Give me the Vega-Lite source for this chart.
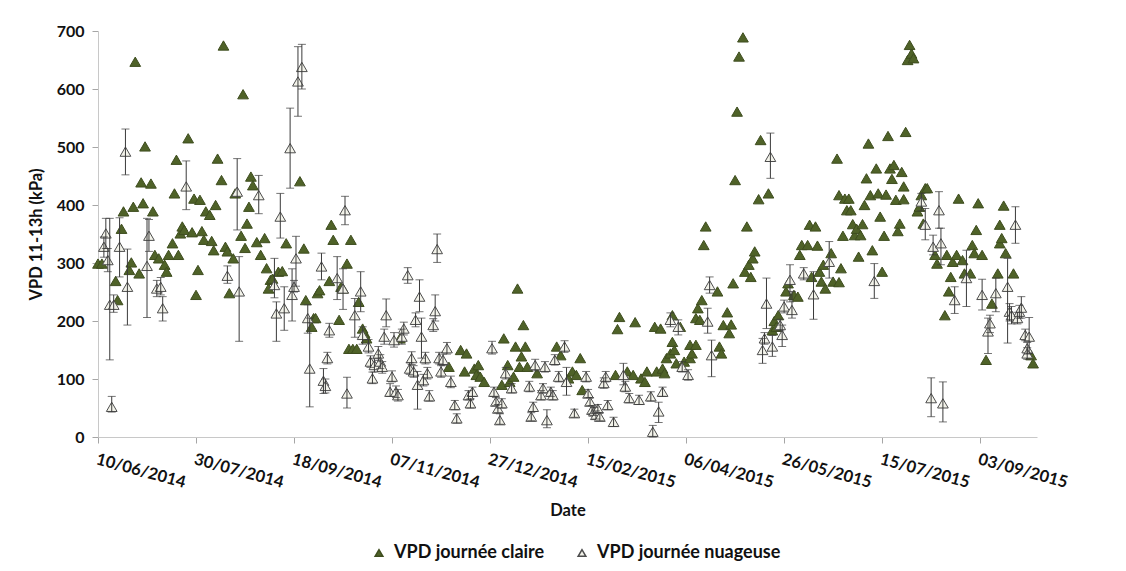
{
"$schema":"https://vega.github.io/schema/vega-lite/v6.json",
"width":939,"height":406,
"autosize":{"type":"none"},
"padding":{"left":98,"top":31,"right":89,"bottom":134},
"background":"white",
"config":{"view":{"stroke":null},"font":"Lato"},
"data":{"format":{"parse":{"d":"date:'%Y-%m-%d'"}},"values":[
{"d":"2014-06-10","v":299,"t":"c"},{"d":"2014-06-12","v":299,"t":"c"},{"d":"2014-06-19","v":269,"t":"c"},{"d":"2014-06-20","v":236,"t":"c"},{"d":"2014-06-22","v":359,"t":"c"},{"d":"2014-06-23","v":389,"t":"c"},{"d":"2014-06-26","v":288,"t":"c"},{"d":"2014-06-27","v":301,"t":"c"},{"d":"2014-06-28","v":397,"t":"c"},{"d":"2014-06-29","v":647,"t":"c"},
{"d":"2014-07-01","v":282,"t":"c"},{"d":"2014-07-02","v":439,"t":"c"},{"d":"2014-07-03","v":403,"t":"c"},{"d":"2014-07-04","v":501,"t":"c"},{"d":"2014-07-07","v":437,"t":"c"},{"d":"2014-07-08","v":389,"t":"c"},{"d":"2014-07-09","v":314,"t":"c"},{"d":"2014-07-11","v":308,"t":"c"},{"d":"2014-07-14","v":297,"t":"c"},{"d":"2014-07-15","v":285,"t":"c"},{"d":"2014-07-16","v":314,"t":"c"},{"d":"2014-07-18","v":334,"t":"c"},{"d":"2014-07-19","v":420,"t":"c"},{"d":"2014-07-20","v":478,"t":"c"},{"d":"2014-07-21","v":314,"t":"c"},{"d":"2014-07-22","v":351,"t":"c"},{"d":"2014-07-23","v":363,"t":"c"},{"d":"2014-07-24","v":357,"t":"c"},{"d":"2014-07-26","v":515,"t":"c"},{"d":"2014-07-28","v":353,"t":"c"},{"d":"2014-07-29","v":411,"t":"c"},{"d":"2014-07-30","v":245,"t":"c"},{"d":"2014-07-31","v":288,"t":"c"},
{"d":"2014-08-01","v":409,"t":"c"},{"d":"2014-08-02","v":355,"t":"c"},{"d":"2014-08-03","v":340,"t":"c"},{"d":"2014-08-04","v":389,"t":"c"},{"d":"2014-08-06","v":383,"t":"c"},{"d":"2014-08-07","v":338,"t":"c"},{"d":"2014-08-08","v":322,"t":"c"},{"d":"2014-08-09","v":400,"t":"c"},{"d":"2014-08-10","v":480,"t":"c"},{"d":"2014-08-12","v":443,"t":"c"},{"d":"2014-08-13","v":675,"t":"c"},{"d":"2014-08-14","v":328,"t":"c"},{"d":"2014-08-15","v":320,"t":"c"},{"d":"2014-08-16","v":248,"t":"c"},{"d":"2014-08-18","v":308,"t":"c"},{"d":"2014-08-19","v":420,"t":"c"},{"d":"2014-08-22","v":347,"t":"c"},{"d":"2014-08-23","v":591,"t":"c"},{"d":"2014-08-24","v":326,"t":"c"},{"d":"2014-08-25","v":368,"t":"c"},{"d":"2014-08-26","v":397,"t":"c"},{"d":"2014-08-27","v":449,"t":"c"},{"d":"2014-08-28","v":434,"t":"c"},{"d":"2014-08-30","v":336,"t":"c"},
{"d":"2014-09-01","v":314,"t":"c"},{"d":"2014-09-03","v":343,"t":"c"},{"d":"2014-09-04","v":291,"t":"c"},{"d":"2014-09-05","v":256,"t":"c"},{"d":"2014-09-06","v":271,"t":"c"},{"d":"2014-09-07","v":273,"t":"c"},{"d":"2014-09-10","v":285,"t":"c"},{"d":"2014-09-12","v":286,"t":"c"},{"d":"2014-09-14","v":334,"t":"c"},{"d":"2014-09-21","v":441,"t":"c"},{"d":"2014-09-23","v":325,"t":"c"},{"d":"2014-09-24","v":236,"t":"c"},{"d":"2014-09-27","v":190,"t":"c"},{"d":"2014-09-28","v":205,"t":"c"},{"d":"2014-09-29","v":205,"t":"c"},{"d":"2014-09-30","v":248,"t":"c"},
{"d":"2014-10-01","v":253,"t":"c"},{"d":"2014-10-06","v":269,"t":"c"},{"d":"2014-10-07","v":366,"t":"c"},{"d":"2014-10-08","v":340,"t":"c"},{"d":"2014-10-11","v":202,"t":"c"},{"d":"2014-10-12","v":259,"t":"c"},{"d":"2014-10-13","v":256,"t":"c"},{"d":"2014-10-15","v":299,"t":"c"},{"d":"2014-10-16","v":152,"t":"c"},{"d":"2014-10-17","v":340,"t":"c"},{"d":"2014-10-18","v":152,"t":"c"},{"d":"2014-10-20","v":152,"t":"c"},{"d":"2014-10-21","v":233,"t":"c"},{"d":"2014-10-23","v":187,"t":"c"},{"d":"2014-10-24","v":179,"t":"c"},{"d":"2014-10-25","v":170,"t":"c"},
{"d":"2014-11-11","v":170,"t":"c"},{"d":"2014-12-06","v":121,"t":"c"},{"d":"2014-12-12","v":150,"t":"c"},{"d":"2014-12-14","v":113,"t":"c"},{"d":"2014-12-15","v":144,"t":"c"},{"d":"2014-12-19","v":118,"t":"c"},{"d":"2014-12-20","v":107,"t":"c"},{"d":"2014-12-21","v":124,"t":"c"},{"d":"2014-12-22","v":104,"t":"c"},{"d":"2014-12-24","v":95,"t":"c"},
{"d":"2015-01-02","v":90,"t":"c"},{"d":"2015-01-03","v":170,"t":"c"},{"d":"2015-01-05","v":124,"t":"c"},{"d":"2015-01-06","v":95,"t":"c"},{"d":"2015-01-08","v":104,"t":"c"},{"d":"2015-01-09","v":156,"t":"c"},{"d":"2015-01-10","v":256,"t":"c"},{"d":"2015-01-11","v":121,"t":"c"},{"d":"2015-01-12","v":139,"t":"c"},{"d":"2015-01-13","v":193,"t":"c"},{"d":"2015-01-14","v":156,"t":"c"},{"d":"2015-01-15","v":121,"t":"c"},{"d":"2015-01-20","v":110,"t":"c"},{"d":"2015-01-30","v":156,"t":"c"},
{"d":"2015-02-01","v":141,"t":"c"},{"d":"2015-02-05","v":101,"t":"c"},{"d":"2015-02-07","v":113,"t":"c"},{"d":"2015-02-09","v":107,"t":"c"},{"d":"2015-02-11","v":136,"t":"c"},{"d":"2015-02-12","v":81,"t":"c"},
{"d":"2015-03-01","v":107,"t":"c"},{"d":"2015-03-02","v":186,"t":"c"},{"d":"2015-03-03","v":207,"t":"c"},{"d":"2015-03-07","v":113,"t":"c"},{"d":"2015-03-10","v":107,"t":"c"},{"d":"2015-03-11","v":198,"t":"c"},{"d":"2015-03-14","v":101,"t":"c"},{"d":"2015-03-16","v":95,"t":"c"},{"d":"2015-03-17","v":113,"t":"c"},{"d":"2015-03-21","v":190,"t":"c"},{"d":"2015-03-22","v":113,"t":"c"},{"d":"2015-03-24","v":187,"t":"c"},{"d":"2015-03-25","v":118,"t":"c"},{"d":"2015-03-26","v":110,"t":"c"},{"d":"2015-03-27","v":136,"t":"c"},{"d":"2015-03-29","v":144,"t":"c"},{"d":"2015-03-30","v":164,"t":"c"},{"d":"2015-03-30","v":210,"t":"c"},{"d":"2015-03-31","v":150,"t":"c"},
{"d":"2015-04-01","v":127,"t":"c"},{"d":"2015-04-03","v":190,"t":"c"},{"d":"2015-04-05","v":130,"t":"c"},{"d":"2015-04-08","v":136,"t":"c"},{"d":"2015-04-08","v":159,"t":"c"},{"d":"2015-04-09","v":144,"t":"c"},{"d":"2015-04-11","v":205,"t":"c"},{"d":"2015-04-11","v":159,"t":"c"},{"d":"2015-04-12","v":222,"t":"c"},{"d":"2015-04-13","v":202,"t":"c"},{"d":"2015-04-14","v":236,"t":"c"},{"d":"2015-04-15","v":331,"t":"c"},{"d":"2015-04-16","v":363,"t":"c"},{"d":"2015-04-22","v":251,"t":"c"},{"d":"2015-04-23","v":156,"t":"c"},{"d":"2015-04-24","v":144,"t":"c"},{"d":"2015-04-25","v":193,"t":"c"},{"d":"2015-04-27","v":215,"t":"c"},{"d":"2015-04-28","v":179,"t":"c"},{"d":"2015-04-29","v":194,"t":"c"},{"d":"2015-04-30","v":265,"t":"c"},
{"d":"2015-05-01","v":443,"t":"c"},{"d":"2015-05-02","v":561,"t":"c"},{"d":"2015-05-03","v":656,"t":"c"},{"d":"2015-05-05","v":689,"t":"c"},{"d":"2015-05-06","v":285,"t":"c"},{"d":"2015-05-07","v":363,"t":"c"},{"d":"2015-05-08","v":297,"t":"c"},{"d":"2015-05-09","v":276,"t":"c"},{"d":"2015-05-10","v":308,"t":"c"},{"d":"2015-05-11","v":320,"t":"c"},{"d":"2015-05-13","v":410,"t":"c"},{"d":"2015-05-14","v":512,"t":"c"},{"d":"2015-05-18","v":420,"t":"c"},{"d":"2015-05-20","v":184,"t":"c"},{"d":"2015-05-21","v":200,"t":"c"},{"d":"2015-05-22","v":190,"t":"c"},{"d":"2015-05-23","v":210,"t":"c"},{"d":"2015-05-27","v":251,"t":"c"},{"d":"2015-05-28","v":265,"t":"c"},{"d":"2015-05-31","v":245,"t":"c"},
{"d":"2015-06-02","v":242,"t":"c"},{"d":"2015-06-03","v":314,"t":"c"},{"d":"2015-06-04","v":331,"t":"c"},{"d":"2015-06-07","v":331,"t":"c"},{"d":"2015-06-08","v":366,"t":"c"},{"d":"2015-06-09","v":276,"t":"c"},{"d":"2015-06-11","v":363,"t":"c"},{"d":"2015-06-12","v":330,"t":"c"},{"d":"2015-06-13","v":285,"t":"c"},{"d":"2015-06-14","v":268,"t":"c"},{"d":"2015-06-15","v":297,"t":"c"},{"d":"2015-06-16","v":256,"t":"c"},{"d":"2015-06-19","v":317,"t":"c"},{"d":"2015-06-20","v":268,"t":"c"},{"d":"2015-06-22","v":480,"t":"c"},{"d":"2015-06-23","v":417,"t":"c"},{"d":"2015-06-23","v":267,"t":"c"},{"d":"2015-06-24","v":291,"t":"c"},{"d":"2015-06-25","v":347,"t":"c"},{"d":"2015-06-26","v":411,"t":"c"},{"d":"2015-06-27","v":391,"t":"c"},{"d":"2015-06-28","v":411,"t":"c"},{"d":"2015-06-29","v":391,"t":"c"},{"d":"2015-06-30","v":367,"t":"c"},
{"d":"2015-07-01","v":348,"t":"c"},{"d":"2015-07-02","v":359,"t":"c"},{"d":"2015-07-03","v":311,"t":"c"},{"d":"2015-07-04","v":348,"t":"c"},{"d":"2015-07-05","v":367,"t":"c"},{"d":"2015-07-06","v":400,"t":"c"},{"d":"2015-07-07","v":446,"t":"c"},{"d":"2015-07-08","v":506,"t":"c"},{"d":"2015-07-09","v":417,"t":"c"},{"d":"2015-07-10","v":322,"t":"c"},{"d":"2015-07-12","v":463,"t":"c"},{"d":"2015-07-13","v":420,"t":"c"},{"d":"2015-07-14","v":380,"t":"c"},{"d":"2015-07-15","v":285,"t":"c"},{"d":"2015-07-16","v":347,"t":"c"},{"d":"2015-07-17","v":418,"t":"c"},{"d":"2015-07-18","v":519,"t":"c"},{"d":"2015-07-19","v":463,"t":"c"},{"d":"2015-07-20","v":445,"t":"c"},{"d":"2015-07-21","v":469,"t":"c"},{"d":"2015-07-22","v":409,"t":"c"},{"d":"2015-07-23","v":355,"t":"c"},{"d":"2015-07-24","v":368,"t":"c"},{"d":"2015-07-25","v":457,"t":"c"},{"d":"2015-07-26","v":432,"t":"c"},{"d":"2015-07-26","v":410,"t":"c"},{"d":"2015-07-27","v":526,"t":"c"},{"d":"2015-07-28","v":650,"t":"c"},{"d":"2015-07-29","v":676,"t":"c"},{"d":"2015-07-30","v":661,"t":"c"},{"d":"2015-07-31","v":653,"t":"c"},
{"d":"2015-08-02","v":389,"t":"c"},{"d":"2015-08-03","v":397,"t":"c"},{"d":"2015-08-04","v":417,"t":"c"},{"d":"2015-08-05","v":368,"t":"c"},{"d":"2015-08-06","v":429,"t":"c"},{"d":"2015-08-07","v":429,"t":"c"},{"d":"2015-08-11","v":314,"t":"c"},{"d":"2015-08-12","v":299,"t":"c"},{"d":"2015-08-16","v":210,"t":"c"},{"d":"2015-08-17","v":314,"t":"c"},{"d":"2015-08-18","v":251,"t":"c"},{"d":"2015-08-19","v":276,"t":"c"},{"d":"2015-08-20","v":302,"t":"c"},{"d":"2015-08-22","v":314,"t":"c"},{"d":"2015-08-23","v":411,"t":"c"},{"d":"2015-08-25","v":305,"t":"c"},{"d":"2015-08-26","v":282,"t":"c"},{"d":"2015-08-29","v":282,"t":"c"},{"d":"2015-08-30","v":331,"t":"c"},{"d":"2015-08-31","v":317,"t":"c"},
{"d":"2015-09-01","v":357,"t":"c"},{"d":"2015-09-02","v":403,"t":"c"},{"d":"2015-09-04","v":314,"t":"c"},{"d":"2015-09-06","v":133,"t":"c"},{"d":"2015-09-09","v":230,"t":"c"},{"d":"2015-09-12","v":282,"t":"c"},{"d":"2015-09-13","v":334,"t":"c"},{"d":"2015-09-13","v":366,"t":"c"},{"d":"2015-09-14","v":343,"t":"c"},{"d":"2015-09-15","v":399,"t":"c"},{"d":"2015-09-16","v":317,"t":"c"},{"d":"2015-09-20","v":282,"t":"c"},{"d":"2015-09-29","v":141,"t":"c"},{"d":"2015-09-30","v":127,"t":"c"},
{"d":"2014-06-13","v":328,"t":"n","lo":310,"hi":345},{"d":"2014-06-14","v":351,"t":"n","lo":325,"hi":377},{"d":"2014-06-15","v":305,"t":"n","lo":285,"hi":325},{"d":"2014-06-16","v":228,"t":"n","lo":133,"hi":377},{"d":"2014-06-17","v":52,"t":"n","lo":43,"hi":70},{"d":"2014-06-18","v":228,"t":"n","lo":215,"hi":245},{"d":"2014-06-21","v":328,"t":"n","lo":276,"hi":378},{"d":"2014-06-24","v":492,"t":"n","lo":452,"hi":531},{"d":"2014-06-25","v":259,"t":"n","lo":193,"hi":324},
{"d":"2014-07-05","v":295,"t":"n","lo":206,"hi":377},{"d":"2014-07-06","v":347,"t":"n","lo":320,"hi":375},{"d":"2014-07-10","v":256,"t":"n","lo":242,"hi":270},{"d":"2014-07-12","v":259,"t":"n","lo":245,"hi":275},{"d":"2014-07-13","v":222,"t":"n","lo":200,"hi":242},{"d":"2014-07-25","v":432,"t":"n","lo":392,"hi":476},
{"d":"2014-08-15","v":278,"t":"n","lo":265,"hi":295},{"d":"2014-08-20","v":423,"t":"n","lo":357,"hi":480},{"d":"2014-08-21","v":251,"t":"n","lo":165,"hi":311},{"d":"2014-08-31","v":417,"t":"n","lo":385,"hi":451},
{"d":"2014-09-08","v":262,"t":"n","lo":240,"hi":308},{"d":"2014-09-09","v":213,"t":"n","lo":165,"hi":233},{"d":"2014-09-11","v":380,"t":"n","lo":343,"hi":420},{"d":"2014-09-13","v":222,"t":"n","lo":184,"hi":259},{"d":"2014-09-16","v":498,"t":"n","lo":429,"hi":567},{"d":"2014-09-17","v":245,"t":"n","lo":200,"hi":290},{"d":"2014-09-18","v":259,"t":"n","lo":250,"hi":270},{"d":"2014-09-19","v":308,"t":"n","lo":260,"hi":346},{"d":"2014-09-20","v":613,"t":"n","lo":553,"hi":673},{"d":"2014-09-22","v":638,"t":"n","lo":600,"hi":677},{"d":"2014-09-25","v":205,"t":"n","lo":179,"hi":228},{"d":"2014-09-26","v":118,"t":"n","lo":52,"hi":205},
{"d":"2014-10-02","v":294,"t":"n","lo":271,"hi":317},{"d":"2014-10-03","v":97,"t":"n","lo":75,"hi":118},{"d":"2014-10-04","v":88,"t":"n","lo":76,"hi":100},{"d":"2014-10-05","v":136,"t":"n","lo":126,"hi":146},{"d":"2014-10-06","v":184,"t":"n","lo":172,"hi":196},{"d":"2014-10-10","v":274,"t":"n","lo":237,"hi":311},{"d":"2014-10-13","v":256,"t":"n","lo":220,"hi":290},{"d":"2014-10-14","v":391,"t":"n","lo":366,"hi":415},{"d":"2014-10-15","v":75,"t":"n","lo":50,"hi":103},{"d":"2014-10-19","v":210,"t":"n","lo":172,"hi":239},{"d":"2014-10-22","v":251,"t":"n","lo":216,"hi":285},{"d":"2014-10-23","v":176,"t":"n","lo":160,"hi":190},{"d":"2014-10-26","v":156,"t":"n","lo":145,"hi":168},{"d":"2014-10-27","v":130,"t":"n","lo":120,"hi":140},{"d":"2014-10-28","v":101,"t":"n","lo":92,"hi":112},{"d":"2014-10-29","v":124,"t":"n","lo":112,"hi":135},{"d":"2014-10-31","v":144,"t":"n","lo":132,"hi":156},
{"d":"2014-11-01","v":130,"t":"n","lo":118,"hi":142},{"d":"2014-11-02","v":121,"t":"n","lo":110,"hi":130},{"d":"2014-11-03","v":173,"t":"n","lo":160,"hi":186},{"d":"2014-11-04","v":210,"t":"n","lo":190,"hi":238},{"d":"2014-11-06","v":78,"t":"n","lo":70,"hi":92},{"d":"2014-11-07","v":104,"t":"n","lo":95,"hi":114},{"d":"2014-11-08","v":167,"t":"n","lo":155,"hi":180},{"d":"2014-11-09","v":78,"t":"n","lo":68,"hi":88},{"d":"2014-11-10","v":72,"t":"n","lo":62,"hi":82},{"d":"2014-11-12","v":173,"t":"n","lo":160,"hi":186},{"d":"2014-11-13","v":187,"t":"n","lo":176,"hi":198},{"d":"2014-11-15","v":279,"t":"n","lo":265,"hi":292},{"d":"2014-11-16","v":118,"t":"n","lo":108,"hi":128},{"d":"2014-11-17","v":136,"t":"n","lo":125,"hi":147},{"d":"2014-11-18","v":113,"t":"n","lo":103,"hi":123},{"d":"2014-11-19","v":202,"t":"n","lo":190,"hi":214},{"d":"2014-11-20","v":90,"t":"n","lo":48,"hi":113},{"d":"2014-11-21","v":242,"t":"n","lo":216,"hi":271},{"d":"2014-11-22","v":173,"t":"n","lo":136,"hi":205},{"d":"2014-11-23","v":98,"t":"n","lo":88,"hi":108},{"d":"2014-11-24","v":136,"t":"n","lo":126,"hi":146},{"d":"2014-11-25","v":110,"t":"n","lo":100,"hi":120},{"d":"2014-11-26","v":70,"t":"n","lo":62,"hi":80},{"d":"2014-11-28","v":193,"t":"n","lo":182,"hi":204},{"d":"2014-11-29","v":217,"t":"n","lo":200,"hi":245},{"d":"2014-11-30","v":324,"t":"n","lo":301,"hi":350},
{"d":"2014-12-01","v":136,"t":"n","lo":126,"hi":146},{"d":"2014-12-02","v":113,"t":"n","lo":103,"hi":123},{"d":"2014-12-03","v":133,"t":"n","lo":123,"hi":143},{"d":"2014-12-05","v":153,"t":"n","lo":143,"hi":163},{"d":"2014-12-07","v":95,"t":"n","lo":85,"hi":105},{"d":"2014-12-09","v":55,"t":"n","lo":47,"hi":63},{"d":"2014-12-10","v":32,"t":"n","lo":24,"hi":40},{"d":"2014-12-16","v":72,"t":"n","lo":64,"hi":80},{"d":"2014-12-17","v":58,"t":"n","lo":50,"hi":66},{"d":"2014-12-18","v":78,"t":"n","lo":70,"hi":86},{"d":"2014-12-28","v":153,"t":"n","lo":143,"hi":165},{"d":"2014-12-29","v":78,"t":"n","lo":70,"hi":86},{"d":"2014-12-30","v":61,"t":"n","lo":54,"hi":68},{"d":"2014-12-31","v":49,"t":"n","lo":42,"hi":56},
{"d":"2015-01-01","v":29,"t":"n","lo":22,"hi":40},{"d":"2015-01-02","v":58,"t":"n","lo":50,"hi":66},{"d":"2015-01-04","v":110,"t":"n","lo":100,"hi":120},{"d":"2015-01-07","v":84,"t":"n","lo":76,"hi":92},{"d":"2015-01-16","v":87,"t":"n","lo":78,"hi":96},{"d":"2015-01-17","v":35,"t":"n","lo":28,"hi":42},{"d":"2015-01-18","v":52,"t":"n","lo":44,"hi":60},{"d":"2015-01-19","v":124,"t":"n","lo":114,"hi":134},{"d":"2015-01-22","v":72,"t":"n","lo":64,"hi":80},{"d":"2015-01-23","v":84,"t":"n","lo":76,"hi":92},{"d":"2015-01-24","v":121,"t":"n","lo":112,"hi":130},{"d":"2015-01-25","v":29,"t":"n","lo":16,"hi":47},{"d":"2015-01-27","v":78,"t":"n","lo":70,"hi":86},{"d":"2015-01-28","v":72,"t":"n","lo":64,"hi":80},{"d":"2015-01-29","v":133,"t":"n","lo":124,"hi":142},{"d":"2015-01-31","v":104,"t":"n","lo":95,"hi":113},
{"d":"2015-02-03","v":156,"t":"n","lo":146,"hi":166},{"d":"2015-02-04","v":95,"t":"n","lo":72,"hi":120},{"d":"2015-02-08","v":41,"t":"n","lo":34,"hi":48},{"d":"2015-02-14","v":104,"t":"n","lo":95,"hi":113},{"d":"2015-02-15","v":75,"t":"n","lo":68,"hi":82},{"d":"2015-02-16","v":61,"t":"n","lo":54,"hi":68},{"d":"2015-02-17","v":47,"t":"n","lo":40,"hi":54},{"d":"2015-02-18","v":44,"t":"n","lo":37,"hi":51},{"d":"2015-02-19","v":38,"t":"n","lo":31,"hi":45},{"d":"2015-02-20","v":49,"t":"n","lo":42,"hi":56},{"d":"2015-02-21","v":35,"t":"n","lo":28,"hi":42},{"d":"2015-02-23","v":93,"t":"n","lo":84,"hi":102},{"d":"2015-02-24","v":104,"t":"n","lo":95,"hi":113},{"d":"2015-02-25","v":55,"t":"n","lo":47,"hi":63},{"d":"2015-02-28","v":26,"t":"n","lo":18,"hi":34},
{"d":"2015-03-05","v":107,"t":"n","lo":90,"hi":127},{"d":"2015-03-06","v":87,"t":"n","lo":78,"hi":96},{"d":"2015-03-08","v":67,"t":"n","lo":59,"hi":75},{"d":"2015-03-13","v":64,"t":"n","lo":56,"hi":72},{"d":"2015-03-19","v":70,"t":"n","lo":62,"hi":78},{"d":"2015-03-20","v":9,"t":"n","lo":0,"hi":20},{"d":"2015-03-23","v":44,"t":"n","lo":25,"hi":60},{"d":"2015-03-25","v":78,"t":"n","lo":70,"hi":86},{"d":"2015-03-29","v":202,"t":"n","lo":190,"hi":214},
{"d":"2015-04-02","v":190,"t":"n","lo":176,"hi":202},{"d":"2015-04-04","v":121,"t":"n","lo":112,"hi":130},{"d":"2015-04-07","v":107,"t":"n","lo":98,"hi":116},{"d":"2015-04-17","v":199,"t":"n","lo":179,"hi":222},{"d":"2015-04-18","v":262,"t":"n","lo":248,"hi":276},{"d":"2015-04-19","v":141,"t":"n","lo":104,"hi":167},
{"d":"2015-05-15","v":150,"t":"n","lo":127,"hi":170},{"d":"2015-05-16","v":170,"t":"n","lo":160,"hi":180},{"d":"2015-05-17","v":230,"t":"n","lo":187,"hi":274},{"d":"2015-05-19","v":483,"t":"n","lo":446,"hi":524},{"d":"2015-05-20","v":156,"t":"n","lo":139,"hi":175},{"d":"2015-05-24","v":193,"t":"n","lo":183,"hi":203},{"d":"2015-05-25","v":176,"t":"n","lo":156,"hi":193},{"d":"2015-05-26","v":225,"t":"n","lo":214,"hi":236},{"d":"2015-05-29","v":271,"t":"n","lo":233,"hi":297},{"d":"2015-05-30","v":219,"t":"n","lo":205,"hi":251},
{"d":"2015-06-05","v":282,"t":"n","lo":271,"hi":292},{"d":"2015-06-10","v":246,"t":"n","lo":203,"hi":285},{"d":"2015-06-18","v":302,"t":"n","lo":274,"hi":337},{"d":"2015-07-11","v":269,"t":"n","lo":239,"hi":299},
{"d":"2015-08-04","v":406,"t":"n","lo":390,"hi":420},{"d":"2015-08-06","v":366,"t":"n","lo":340,"hi":394},{"d":"2015-08-09","v":67,"t":"n","lo":35,"hi":102},{"d":"2015-08-10","v":328,"t":"n","lo":314,"hi":348},{"d":"2015-08-13","v":391,"t":"n","lo":360,"hi":423},{"d":"2015-08-14","v":334,"t":"n","lo":297,"hi":360},{"d":"2015-08-15","v":58,"t":"n","lo":26,"hi":95},{"d":"2015-08-21","v":236,"t":"n","lo":213,"hi":259},{"d":"2015-08-27","v":274,"t":"n","lo":225,"hi":322},
{"d":"2015-09-04","v":245,"t":"n","lo":219,"hi":272},{"d":"2015-09-07","v":182,"t":"n","lo":144,"hi":205},{"d":"2015-09-08","v":196,"t":"n","lo":180,"hi":210},{"d":"2015-09-11","v":248,"t":"n","lo":216,"hi":274},{"d":"2015-09-17","v":259,"t":"n","lo":162,"hi":308},{"d":"2015-09-18","v":216,"t":"n","lo":200,"hi":230},{"d":"2015-09-19","v":210,"t":"n","lo":195,"hi":225},{"d":"2015-09-21","v":366,"t":"n","lo":334,"hi":397},{"d":"2015-09-22","v":205,"t":"n","lo":195,"hi":215},{"d":"2015-09-23","v":216,"t":"n","lo":205,"hi":227},{"d":"2015-09-24","v":223,"t":"n","lo":205,"hi":242},{"d":"2015-09-26","v":176,"t":"n","lo":166,"hi":186},{"d":"2015-09-27","v":153,"t":"n","lo":143,"hi":163},{"d":"2015-09-27","v":144,"t":"n","lo":134,"hi":154},{"d":"2015-09-28","v":173,"t":"n","lo":144,"hi":206}
]},
"encoding":{
 "x":{"field":"d","type":"temporal",
  "scale":{"domain":[{"year":2014,"month":6,"date":10},{"year":2015,"month":10,"date":2}]},
  "axis":{"values":[{"year":2014,"month":6,"date":10},{"year":2014,"month":7,"date":30},{"year":2014,"month":9,"date":18},{"year":2014,"month":11,"date":7},{"year":2014,"month":12,"date":27},{"year":2015,"month":2,"date":15},{"year":2015,"month":4,"date":6},{"year":2015,"month":5,"date":26},{"year":2015,"month":7,"date":15},{"year":2015,"month":9,"date":3}],
   "format":"%d/%m/%Y","labelAngle":15,"labelAlign":"left","labelBaseline":"top","labelFont":"Lato","labelFontSize":16.5,"labelFontWeight":"bold","labelColor":"#111111","labelPadding":8,"labelOverlap":false,"labelFlush":false,"tickSize":6,"tickColor":"#a6a6a6","domainColor":"#c8c8c8","grid":false,
   "title":"Date","titleFont":"Lato","titleFontSize":16.5,"titleFontWeight":"bold","titleColor":"#111111","titlePadding":12}},
 "y":{"field":"v","type":"quantitative","scale":{"domain":[0,700]},
  "axis":{"values":[0,100,200,300,400,500,600,700],"labelFont":"Lato","labelFontSize":16,"labelFontWeight":"bold","labelColor":"#111111","labelPadding":8,"tickSize":6,"tickColor":"#a6a6a6","domainColor":"#c8c8c8","grid":false,
   "title":"VPD 11-13h (kPa)","titleFont":"Lato","titleFontSize":16.5,"titleFontWeight":"bold","titleColor":"#111111","titlePadding":12}}
},
"layer":[
 {"mark":{"type":"point","filled":true,"shape":"triangle-up","size":115,"strokeWidth":1,"opacity":1},
  "encoding":{
   "fill":{"field":"t","type":"nominal","scale":{"domain":["c","n"],"range":["#4f6228","#f3f3ea"]},
    "legend":{"orient":"none","legendX":272,"legendY":513,"direction":"horizontal","title":null,"symbolType":"triangle-up","symbolSize":60,"labelFont":"Lato","labelFontSize":18,"labelFontWeight":"bold","labelColor":"#111111","labelLimit":400,"columnPadding":28,"labelOffset":6,
     "labelExpr":"datum.value == 'c' ? 'VPD journée claire' : 'VPD journée nuageuse'"}},
   "stroke":{"field":"t","type":"nominal","scale":{"domain":["c","n"],"range":["#3e4d1f","#4d4d4d"]},
    "legend":{"orient":"none","legendX":272,"legendY":513,"direction":"horizontal","title":null,"symbolType":"triangle-up","symbolSize":60,"labelFont":"Lato","labelFontSize":18,"labelFontWeight":"bold","labelColor":"#111111","labelLimit":400,"columnPadding":28,"labelOffset":6,
     "labelExpr":"datum.value == 'c' ? 'VPD journée claire' : 'VPD journée nuageuse'"}}
  }},
 {"transform":[{"filter":"datum.t == 'n'"}],
  "mark":{"type":"errorbar","ticks":{"size":8,"color":"#3a3a3a"},"color":"#3a3a3a","thickness":1},
  "encoding":{"y":{"field":"lo","type":"quantitative","title":"VPD 11-13h (kPa)"},"y2":{"field":"hi"}}}
]
}
